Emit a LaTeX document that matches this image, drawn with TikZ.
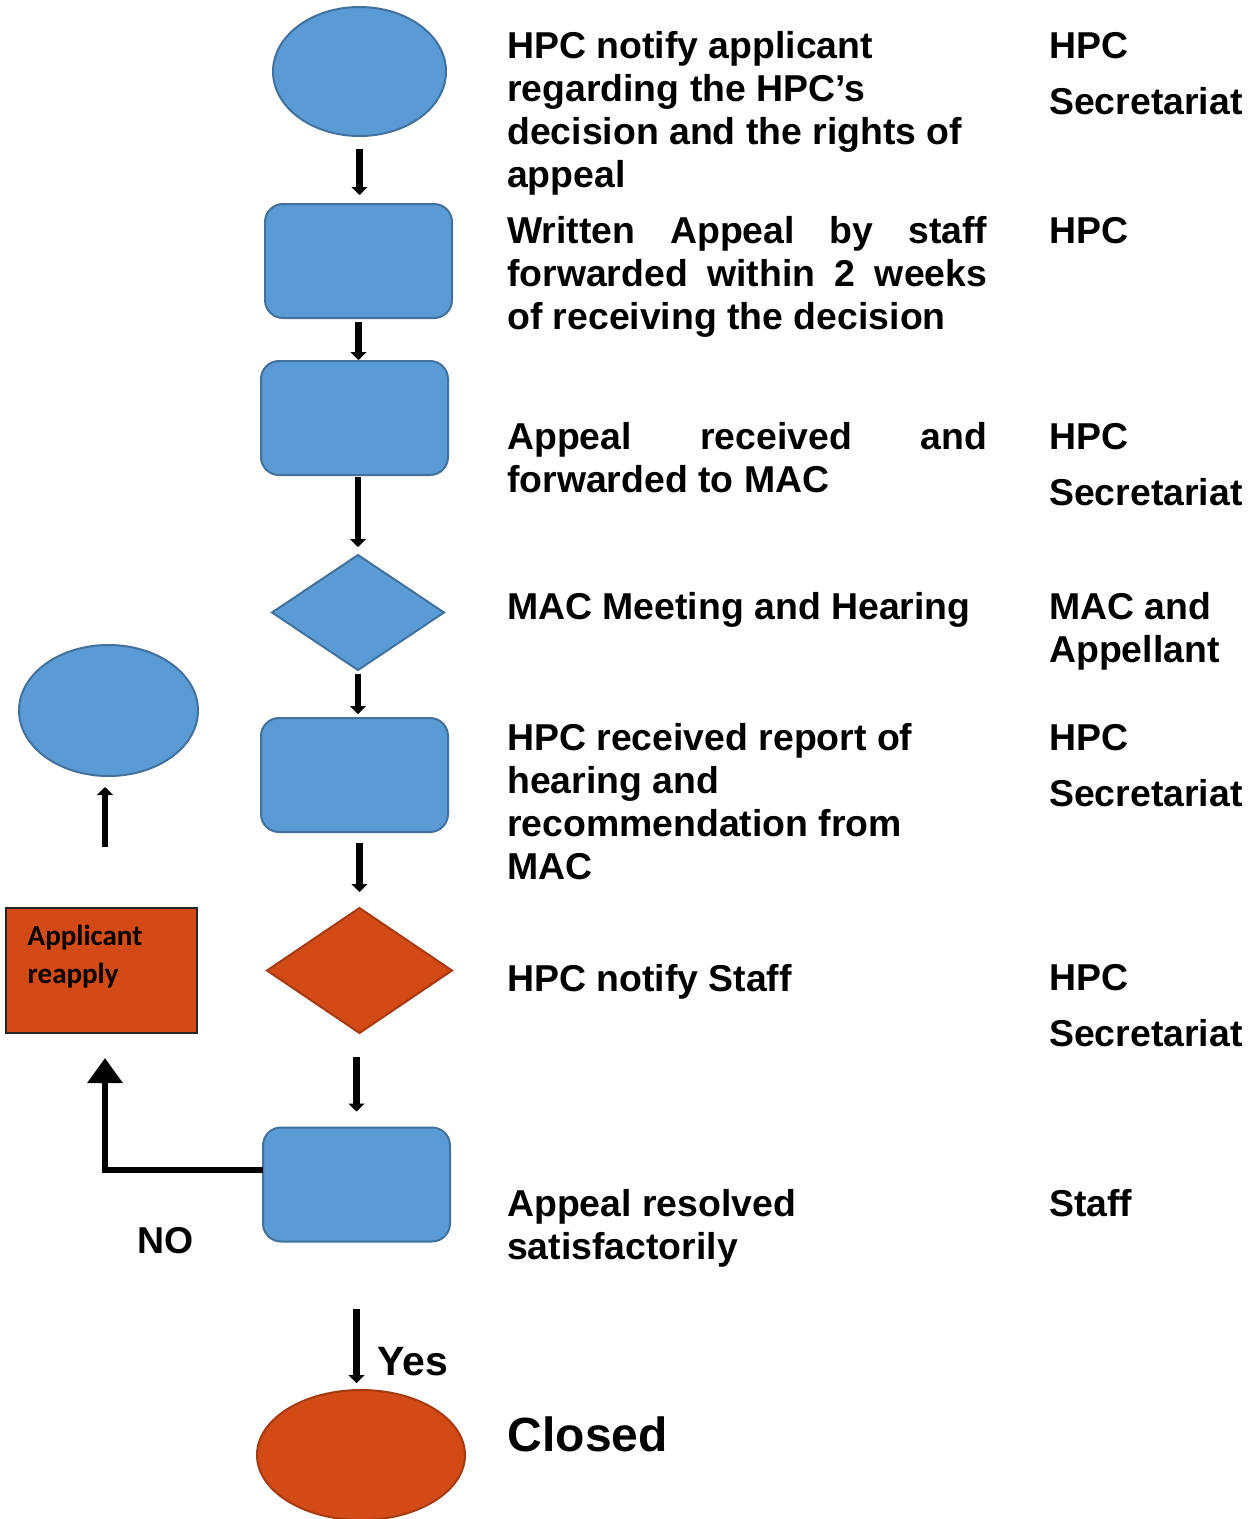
\documentclass[tikz,border=0pt]{standalone}
\usepackage{fontspec}
\setmainfont{Liberation Sans}
\newfontfamily\calib{Carlito}
\usetikzlibrary{shapes.geometric,arrows.meta}
\definecolor{bfill}{HTML}{5B9BD5}
\definecolor{bline}{HTML}{41719C}
\definecolor{ofill}{HTML}{D24A16}
\definecolor{oline}{HTML}{A63A10}
\begin{document}
\begin{tikzpicture}[x=1pt,y=-1pt,
  bshape/.style={draw=bline, fill=bfill, line width=2pt, inner sep=0pt, outer sep=0pt},
  oshape/.style={draw=oline, fill=ofill, line width=2pt, inner sep=0pt, outer sep=0pt},
  bell/.style={bshape, ellipse, minimum width=173pt, minimum height=129pt},
  brect/.style={bshape, rectangle, rounded corners=18pt, minimum width=187pt, minimum height=114pt},
  bdia/.style={bshape, diamond, minimum width=172pt, minimum height=115pt},
  odia/.style={oshape, diamond, minimum width=185pt, minimum height=125pt},
  oell/.style={oshape, ellipse, minimum width=208pt, minimum height=130pt},
  reap/.style={draw=black!85, fill=ofill, line width=2pt, rectangle, inner sep=0pt, outer sep=0pt, minimum width=191pt, minimum height=125pt},
  arr/.style={line width=6.5pt, -{Triangle[width=16pt,length=8pt]}},
  bigarr/.style={line width=6.5pt, -{Triangle[width=34pt,length=25pt]}},
  lt/.style={anchor=base west, inner sep=0pt, font=\bfseries\fontsize{37.4}{43}\selectfont},
  rt/.style={anchor=base west, inner sep=0pt, font=\bfseries\fontsize{37.4}{43}\selectfont}
]
\useasboundingbox (0,0) rectangle (1248,1519);
\fill[white] (0,0) rectangle (1248,1519);

% shapes
\node[bell] (e1) at (359.5,71.5) {};
\node[brect] (r2) at (358.5,261) {};
\node[brect] (r3) at (354.5,418) {};
\node[bdia] (d4) at (358,612.5) {};
\node[brect] (r5) at (354.5,775) {};
\node[odia] (d6) at (359.5,970.5) {};
\node[brect] (r7) at (356.5,1184.5) {};
\node[oell] (e8) at (361,1455) {};
\node[bell, minimum width=179pt, minimum height=131pt] (e9) at (108.5,710.5) {};
\node[reap] (reapply) at (101.5,970.5) {};
\node[anchor=base west, inner sep=0pt, font=\calib\bfseries\fontsize{29}{38}\selectfont] (reaptxt) at (27.5,945) {\parbox[t]{160pt}{\raggedright Applicant\\reapply}};

% connectors
\coordinate (noEnd) at (105,1058);
\draw[arr, shorten <=13pt, shorten >=9pt] (e1.south) -- (e1.south |- r2.north);
\draw[arr, shorten <=4pt, shorten >=1pt] (r2.south) -- (r2.south |- r3.north);
\draw[arr, shorten <=2pt, shorten >=8pt] (d4.north |- r3.south) -- (d4.north);
\draw[arr, shorten <=4pt, shorten >=4pt] (d4.south) -- (d4.south |- r5.north);
\draw[arr, shorten <=11pt, shorten >=16pt] (d6.north |- r5.south) -- (d6.north);
\draw[arr, shorten <=24pt, shorten >=16pt] (d6.south -| r7.north) -- (r7.north);
\draw[arr, shorten <=67pt, shorten >=7pt] (r7.south) -- (r7.south |- e8.north);
\draw[arr, shorten <=61pt, shorten >=11pt] (reapply.north -| noEnd) -- (e9.south -| noEnd);
\draw[bigarr] ([yshift=14.5pt]r7.west) -| (noEnd);

% labels
\node[anchor=base west, inner sep=0pt, font=\bfseries\fontsize{37.4}{43}\selectfont] (no) at (137.5,1253) {NO};
\node[anchor=base west, inner sep=0pt, font=\bfseries\fontsize{41}{48}\selectfont] (yes) at (377,1375) {Yes};

% left text column
\node[lt] (t1) at (507,58) {\parbox[t]{520pt}{\raggedright HPC notify applicant\\regarding the HPC’s\\decision and the rights of\\appeal}};
\node[lt] (t2) at (507,243) {\parbox[t]{480pt}{\raggedright \makebox[480pt][s]{Written Appeal by staff}\\\makebox[480pt][s]{forwarded within 2 weeks}\\of receiving the decision}};
\node[lt] (t3) at (507,449) {\parbox[t]{480pt}{\raggedright \makebox[480pt][s]{Appeal received and}\\forwarded to MAC}};
\node[lt] (t4) at (507,619) {MAC Meeting and Hearing};
\node[lt] (t5) at (507,750) {\parbox[t]{520pt}{\raggedright HPC received report of\\hearing and\\recommendation from\\MAC}};
\node[lt] (t6) at (507,991) {HPC notify Staff};
\node[lt] (t7) at (507,1216) {\parbox[t]{520pt}{\raggedright Appeal resolved\\satisfactorily}};
\node[anchor=base west, inner sep=0pt, font=\bfseries\fontsize{48}{56}\selectfont] (t8) at (507.5,1451) {Closed};

% right text column
\node[rt] (s1) at (1049,58) {\parbox[t]{200pt}{\raggedright HPC\\[13pt]Secretariat}};
\node[rt] (s2) at (1049,243) {HPC};
\node[rt] (s3) at (1049,449) {\parbox[t]{200pt}{\raggedright HPC\\[13pt]Secretariat}};
\node[rt] (s4) at (1049,619) {\parbox[t]{200pt}{\raggedright MAC and\\Appellant}};
\node[rt] (s5) at (1049,750) {\parbox[t]{200pt}{\raggedright HPC\\[13pt]Secretariat}};
\node[rt] (s6) at (1049,990) {\parbox[t]{200pt}{\raggedright HPC\\[13pt]Secretariat}};
\node[rt] (s7) at (1049,1216) {Staff};
\end{tikzpicture}
\end{document}
